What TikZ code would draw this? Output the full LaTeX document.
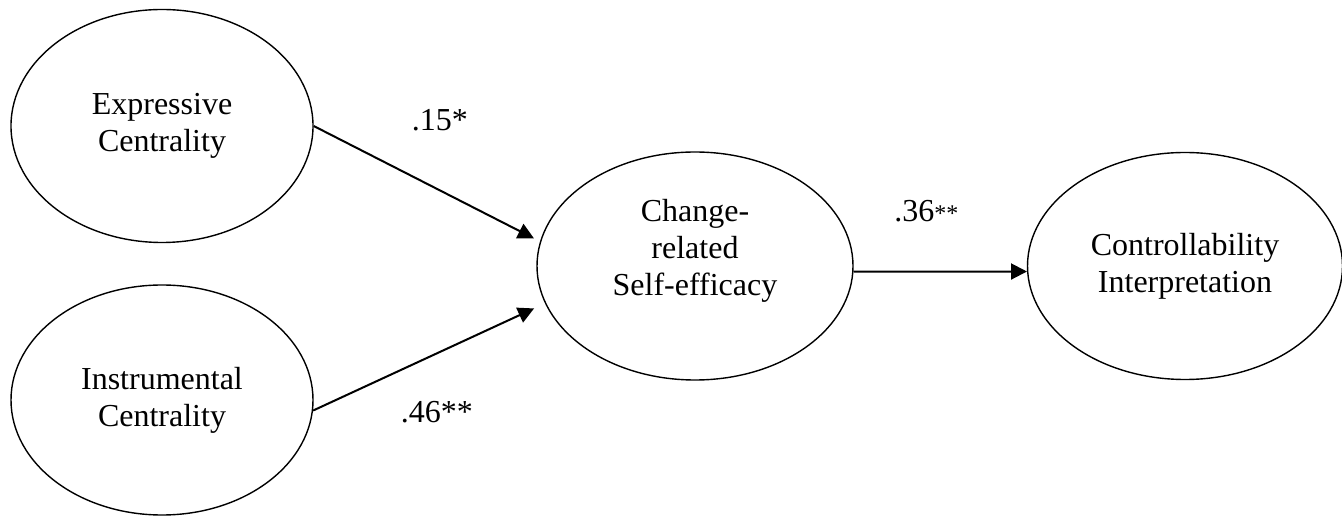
\documentclass[tikz,border=0pt]{standalone}
\usepackage{fontspec}
\setmainfont{Liberation Serif}
\usetikzlibrary{shapes,arrows.meta}
\tikzstyle{latent} = [draw, ellipse, line width=0.7pt, align=center, minimum width=151pt, minimum height=115pt, font=\fontsize{16}{18.5}\selectfont]
\tikzstyle{effect} = [-{Triangle[length=8pt,width=8pt]}, line width=1pt]
\tikzstyle{coef} = [inner sep=0pt, font=\fontsize{16}{18.5}\selectfont]

\begin{document}
\begin{tikzpicture}
		\useasboundingbox (0,0) rectangle (671pt,-258.5pt);

		\node [latent, minimum height=116.5pt] (expr) at (81pt,-63pt) {Expressive\\Centrality};
		\node [latent, below of=expr, node distance=137pt] (instr) {Instrumental\\Centrality};
		\node [latent, minimum width=158pt, minimum height=114pt] (change) at (347.5pt,-133pt)
			{\raisebox{7.5pt}[\height][\depth]{\begin{tabular}{@{}c@{}}Change-\\related\\Self-efficacy\end{tabular}}};
		\node [latent, right of=change, node distance=245pt, minimum width=157.5pt, minimum height=113.5pt] (control) {Controllability\\Interpretation};

		\draw [effect, shorten >=3.4pt] (expr.east) -- node[coef, pos=0.557, above=29pt, name=w1] {.15*} (change.171);
		\draw [effect, shorten >=6pt] (instr.-4) -- node[coef, pos=0.534, below=23.5pt, name=w2] {.46**} (change.194);
		\draw [effect] (change.-2) -- node[coef, pos=0.42, above=24.5pt, name=w3] {.36{\fontsize{12}{14}\selectfont**}} (control.182.5);

		\end{tikzpicture}
\end{document}
